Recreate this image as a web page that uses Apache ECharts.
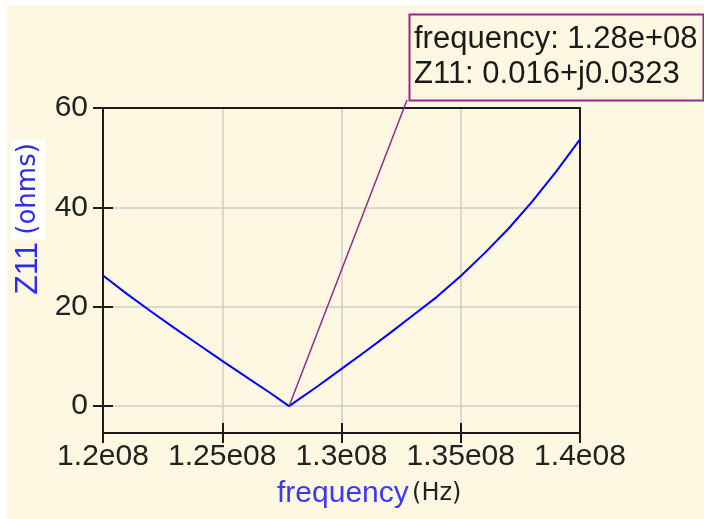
<!DOCTYPE html>
<html>
<head>
<meta charset="utf-8">
<title>Z11 vs frequency</title>
<script src="https://cdn.jsdelivr.net/npm/echarts@6/dist/echarts.min.js"></script>
<style>
    html, body { margin: 0; padding: 0; background: #ffffff; }
    #chart { position: absolute; left: 7px; top: 5px; width: 697px; height: 514px; }
</style>
</head>
<body>
<div id="chart"></div>
<script>
    // frequency samples (Hz) and |Z11| (ohms)
    const freq = [120e6, 121e6, 122e6, 123e6, 124e6, 125e6, 126e6, 127e6, 127.8e6,
        129e6, 130e6, 131e6, 132e6, 133e6, 134e6, 135e6, 136e6, 137e6, 138e6, 139e6, 140e6];
    const z11 = [26.3, 22.6, 19.1, 15.7, 12.4, 9.1, 5.9, 2.7, 0,
        4.0, 7.5, 11.0, 14.6, 18.3, 22.0, 26.2, 30.8, 35.7, 41.2, 47.2, 53.7];

    const xTicks = [120e6, 125e6, 130e6, 135e6, 140e6];
    const xTickLabels = ['1.2e08', '1.25e08', '1.3e08', '1.35e08', '1.4e08'];
    const yTicks = [0, 20, 40, 60];

    // marker
    const markerPoint = [127.8e6, 0];
    const markerLines = ['frequency: 1.28e+08', 'Z11: 0.016+j0.0323'];

    const chart = echarts.init(document.getElementById('chart'));

    const axisColor = '#1a1a1a';
    const gridColor = '#cccccc';
    const labelFont = 'Liberation Sans, Arial, sans-serif';
    const xRange = { min: 120e6, max: 140e6, interval: 5e6 };
    const yRange = { min: -5.4, max: 60 };

    chart.setOption({
        backgroundColor: '#fef7e1',
        animation: false,
        grid: {
            left: 96,
            top: 103,
            width: 477,
            height: 325
        },
        xAxis: [{
            type: 'value',
            ...xRange,
            axisLine: { onZero: false, lineStyle: { color: axisColor, width: 2 } },
            axisTick: { show: true, length: 10, lineStyle: { color: axisColor, width: 2 } },
            axisLabel: {
                margin: 9,
                fontSize: 30,
                fontFamily: labelFont,
                color: '#222222',
                formatter: function (v) {
                    const i = xTicks.indexOf(v);
                    return i >= 0 ? xTickLabels[i] : '';
                }
            },
            splitLine: { show: true, lineStyle: { color: gridColor, width: 1.5 } }
        }, {
            // inner half of the crossing ticks
            type: 'value',
            position: 'bottom',
            ...xRange,
            axisLine: { show: false, onZero: false },
            axisTick: { show: true, inside: true, length: 10, lineStyle: { color: axisColor, width: 2 } },
            axisLabel: { show: false },
            splitLine: { show: false }
        }, {
            // top frame
            type: 'value',
            position: 'top',
            ...xRange,
            axisLine: { show: true, onZero: false, lineStyle: { color: axisColor, width: 2 } },
            axisTick: { show: false },
            axisLabel: { show: false },
            splitLine: { show: false }
        }],
        yAxis: [{
            type: 'value',
            ...yRange,
            axisLine: { show: true, onZero: false, lineStyle: { color: axisColor, width: 2 } },
            axisTick: { show: true, length: 10, customValues: yTicks, lineStyle: { color: axisColor, width: 2 } },
            axisLabel: {
                margin: 15,
                fontSize: 30,
                fontFamily: labelFont,
                color: '#222222',
                customValues: yTicks
            },
            splitLine: { show: true, lineStyle: { color: gridColor, width: 1.5 } }
        }, {
            type: 'value',
            position: 'left',
            ...yRange,
            axisLine: { show: false, onZero: false },
            axisTick: { show: true, inside: true, length: 10, customValues: yTicks, lineStyle: { color: axisColor, width: 2 } },
            axisLabel: { show: false },
            splitLine: { show: false }
        }, {
            // right frame
            type: 'value',
            position: 'right',
            ...yRange,
            axisLine: { show: true, onZero: false, lineStyle: { color: axisColor, width: 2 } },
            axisTick: { show: false },
            axisLabel: { show: false },
            splitLine: { show: false }
        }],
        series: [{
            type: 'line',
            data: freq.map((f, i) => [f, z11[i]]),
            showSymbol: false,
            lineStyle: { color: '#0000ff', width: 2 },
            markLine: {
                silent: true,
                symbol: 'none',
                label: { show: false },
                lineStyle: { color: '#8b2d8b', width: 1.5, type: 'solid' },
                data: [[{ coord: markerPoint }, { x: 400, y: 95 }]]
            }
        }],
        graphic: [{
            type: 'rect',
            shape: { x: 402.5, y: 9.5, width: 294, height: 86 },
            style: { fill: '#fef7e1', stroke: '#8b2d8b', lineWidth: 2 },
            z: 100
        }, {
            type: 'text',
            x: 407,
            y: 34,
            z: 101,
            style: {
                text: markerLines[0],
                font: '31px Liberation Sans, Arial, sans-serif',
                fill: '#1a1a1a',
                textVerticalAlign: 'middle'
            }
        }, {
            type: 'text',
            x: 407,
            y: 69,
            z: 101,
            style: {
                text: markerLines[1],
                font: '31px Liberation Sans, Arial, sans-serif',
                fill: '#1a1a1a',
                textVerticalAlign: 'middle'
            }
        }, {
            // y axis title
            type: 'text',
            x: 21,
            y: 212,
            rotation: Math.PI / 2,
            style: {
                text: '{a|Z11} {b|(ohms)}',
                textAlign: 'center',
                textVerticalAlign: 'middle',
                rich: {
                    a: { fontSize: 32, fontFamily: labelFont, fill: '#2a2aff', color: '#2a2aff' },
                    b: { fontSize: 26, fontFamily: 'DejaVu Sans', fill: '#2f2fe0', color: '#2f2fe0', backgroundColor: '#ffffff', padding: [4, 4, 4, 4] }
                }
            }
        }, {
            // x axis title
            type: 'text',
            x: 270,
            y: 489,
            style: {
                text: '{a|frequency} {b|(Hz)}',
                textVerticalAlign: 'middle',
                rich: {
                    a: { fontSize: 30, fontFamily: labelFont, fill: '#3a3aff', color: '#3a3aff' },
                    b: { fontSize: 24, fontFamily: 'DejaVu Sans', fill: '#222222', color: '#222222' }
                }
            }
        }]
    });
</script>
</body>
</html>
